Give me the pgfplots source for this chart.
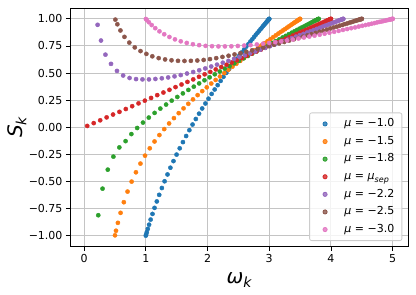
\documentclass[border=0pt]{standalone}
\usepackage{fontspec}
\setmainfont{DejaVu Sans}
\usepackage{pgfplots}
\pgfplotsset{compat=1.18}
\definecolor{c1}{HTML}{1F77B4}
\definecolor{c2}{HTML}{FF7F0E}
\definecolor{c3}{HTML}{2CA02C}
\definecolor{c4}{HTML}{D62728}
\definecolor{c5}{HTML}{9467BD}
\definecolor{c6}{HTML}{8C564B}
\definecolor{c7}{HTML}{E377C2}
\definecolor{gridc}{HTML}{C4C4C4}
\definecolor{legc}{HTML}{CCCCCC}
\begin{document}
\begin{tikzpicture}
\path[use as bounding box] (-70pt,-48.3pt) rectangle (346pt,246.7pt);
\begin{axis}[
  scale only axis, width=338.3pt, height=238.7pt,
  xmin=-0.227, xmax=5.252, ymin=-1.1, ymax=1.1,
  xtick={0,1,2,3,4,5}, xticklabels={0,1,2,3,4,5},
  ytick={-1,-0.75,-0.5,-0.25,0,0.25,0.5,0.75,1},
  yticklabels={−1.00,−0.75,−0.50,−0.25,0.00,0.25,0.50,0.75,1.00},
  tick align=outside, tick pos=left, major tick length=4pt,
  grid=major, grid style={draw=gridc, line width=1pt},
  axis line style={line width=0.9pt},
  every tick/.style={black, line width=0.9pt},
  tick label style={font=\fontsize{11}{13}\selectfont},
  xlabel={{\itshape ω}\raisebox{-4pt}{\fontsize{14}{14}\selectfont\itshape k}},
  ylabel={{\itshape S}\raisebox{-4pt}{\fontsize{14}{14}\selectfont\itshape k}},
  every axis x label/.style={at={(axis description cs:0.5,-0.138)}, anchor=center, font=\fontsize{20}{24}\selectfont},
  every axis y label/.style={at={(axis description cs:-0.157,0.5)}, anchor=center, rotate=90, font=\fontsize{20}{24}\selectfont},
  legend style={at={(1,0)}, anchor=south east, xshift=-6pt, yshift=5.7pt,
    draw=legc, line width=0.8pt, rounded corners=2pt, fill=white, fill opacity=0.8, draw opacity=1, text opacity=1,
    font=\fontsize{11}{13}\selectfont, row sep=7.1pt, column sep=10.9pt, inner xsep=6.5pt, inner ysep=5.8pt,
    nodes={inner xsep=1pt, inner ysep=0pt, text height=8pt, text depth=2.5pt}},
  legend cell align=left,
  legend image code/.code={\draw[#1] plot coordinates {(0.3cm,0cm)};\path (0cm,0cm) (0.55cm,0cm);},
]
\addplot[only marks, mark=*, mark size=2.1pt, color=c1, mark options={draw=none, fill=c1}] coordinates {
(1.001,-0.998) (1.006,-0.988) (1.017,-0.966) (1.033,-0.936) (1.054,-0.897) (1.079,-0.850) (1.109,-0.798) (1.142,-0.742) (1.179,-0.683) (1.218,-0.622) (1.261,-0.559) (1.305,-0.497) (1.352,-0.434) (1.399,-0.372) (1.449,-0.311) (1.499,-0.251) (1.550,-0.193) (1.602,-0.136) (1.654,-0.080) (1.706,-0.026) (1.758,0.026) (1.811,0.077) (1.863,0.126) (1.914,0.174) (1.966,0.220) (2.016,0.264) (2.067,0.308) (2.116,0.349) (2.165,0.389) (2.213,0.428)
(3.000,1.000) (2.998,0.999) (2.994,0.996) (2.989,0.993) (2.982,0.988) (2.972,0.982) (2.962,0.974) (2.949,0.966) (2.934,0.956) (2.918,0.945) (2.900,0.933) (2.880,0.919) (2.859,0.905) (2.836,0.889) (2.811,0.872) (2.784,0.854) (2.756,0.834) (2.727,0.813) (2.695,0.791) (2.663,0.768) (2.628,0.744) (2.593,0.718) (2.556,0.691) (2.517,0.663) (2.477,0.633) (2.436,0.602) (2.394,0.570) (2.350,0.537) (2.305,0.502) (2.259,0.466)
};
\addlegendentry{{\itshape μ} = −1.0}
\addplot[only marks, mark=*, mark size=2.1pt, color=c2, mark options={draw=none, fill=c2}] coordinates {
(0.502,-0.995) (0.518,-0.953) (0.549,-0.880) (0.592,-0.788) (0.645,-0.690) (0.705,-0.592) (0.771,-0.500) (0.841,-0.414) (0.914,-0.334) (0.988,-0.261) (1.065,-0.193) (1.142,-0.130) (1.221,-0.071) (1.299,-0.016) (1.378,0.036) (1.456,0.085) (1.534,0.131) (1.612,0.175) (1.689,0.217) (1.765,0.258) (1.840,0.297) (1.915,0.334) (1.988,0.369) (2.061,0.404) (2.132,0.437) (2.202,0.469) (2.271,0.500) (2.338,0.530) (2.404,0.559) (2.468,0.586)
(3.500,1.000) (3.497,0.999) (3.493,0.997) (3.486,0.995) (3.476,0.991) (3.465,0.986) (3.450,0.981) (3.434,0.975) (3.415,0.968) (3.395,0.960) (3.371,0.951) (3.346,0.941) (3.318,0.930) (3.288,0.919) (3.256,0.906) (3.222,0.893) (3.185,0.879) (3.147,0.864) (3.106,0.848) (3.063,0.831) (3.019,0.813) (2.972,0.794) (2.923,0.775) (2.873,0.755) (2.820,0.733) (2.766,0.711) (2.710,0.688) (2.652,0.664) (2.592,0.639) (2.531,0.613)
};
\addlegendentry{{\itshape μ} = −1.5}
\addplot[only marks, mark=*, mark size=2.1pt, color=c3, mark options={draw=none, fill=c3}] coordinates {
(0.231,-0.810) (0.300,-0.565) (0.385,-0.390) (0.476,-0.270) (0.572,-0.185) (0.673,-0.127) (0.767,-0.062) (0.861,-0.006) (0.955,0.044) (1.049,0.090) (1.143,0.133) (1.236,0.173) (1.329,0.210) (1.420,0.246) (1.511,0.280) (1.601,0.313) (1.690,0.345) (1.778,0.375) (1.865,0.405) (1.951,0.434) (2.035,0.461) (2.118,0.489) (2.199,0.515) (2.279,0.541) (2.358,0.565) (2.435,0.590) (2.510,0.613) (2.584,0.636) (2.655,0.658)
(3.800,1.000) (3.797,0.999) (3.792,0.998) (3.784,0.995) (3.774,0.992) (3.761,0.989) (3.745,0.984) (3.727,0.979) (3.707,0.973) (3.683,0.966) (3.658,0.958) (3.630,0.950) (3.599,0.941) (3.566,0.931) (3.530,0.921) (3.492,0.910) (3.452,0.898) (3.409,0.885) (3.364,0.872) (3.317,0.858) (3.267,0.843) (3.216,0.828) (3.162,0.811) (3.105,0.795) (3.047,0.777) (2.987,0.759) (2.924,0.740) (2.860,0.721) (2.794,0.700) (2.726,0.680)
};
\addlegendentry{{\itshape μ} = −1.8}
\addplot[only marks, mark=*, mark size=2.1pt, color=c4, mark options={draw=none, fill=c4}] coordinates {
(0.052,0.013) (0.157,0.039) (0.262,0.065) (0.366,0.092) (0.470,0.118) (0.574,0.143) (0.677,0.169) (0.780,0.195) (0.883,0.221) (0.985,0.246) (1.086,0.271) (1.186,0.297) (1.286,0.321) (1.384,0.346) (1.482,0.371) (1.579,0.395) (1.675,0.419) (1.769,0.442) (1.862,0.466) (1.954,0.489) (2.045,0.511) (2.134,0.534) (2.222,0.556) (2.309,0.577) (2.393,0.598) (2.476,0.619) (2.558,0.639) (2.637,0.659) (2.715,0.679) (2.791,0.698) (2.865,0.716) (2.937,0.734) (3.007,0.752) (3.075,0.769) (3.141,0.785) (3.205,0.801) (3.267,0.817) (3.326,0.831) (3.383,0.846) (3.438,0.859) (3.490,0.872) (3.540,0.885) (3.587,0.897) (3.633,0.908) (3.675,0.919) (3.715,0.929) (3.753,0.938) (3.788,0.947) (3.820,0.955) (3.850,0.962) (3.877,0.969) (3.901,0.975) (3.923,0.981) (3.942,0.986) (3.959,0.990) (3.972,0.993) (3.983,0.996) (3.991,0.998) (3.997,0.999) (4.000,1.000)
};
\addlegendentry{{\itshape μ} = {\itshape μ}\raisebox{-2.5pt}{\fontsize{8}{8}\selectfont\itshape sep}}
\addplot[only marks, mark=*, mark size=2.1pt, color=c5, mark options={draw=none, fill=c5}] coordinates {
(0.220,0.945) (0.275,0.800) (0.347,0.670) (0.437,0.585) (0.534,0.520) (0.634,0.478) (0.738,0.455) (0.843,0.445) (0.947,0.442) (1.052,0.442) (1.156,0.446) (1.260,0.452) (1.363,0.460) (1.466,0.470) (1.567,0.482) (1.668,0.496) (1.768,0.510) (1.866,0.526) (1.964,0.543) (2.060,0.561) (2.154,0.578) (2.248,0.596) (2.339,0.613) (2.430,0.631) (2.518,0.648) (2.605,0.665) (2.690,0.682) (2.773,0.699) (2.855,0.716) (2.934,0.732)
(4.200,1.000) (4.197,0.999) (4.191,0.998) (4.182,0.996) (4.171,0.994) (4.157,0.991) (4.139,0.987) (4.119,0.983) (4.097,0.978) (4.071,0.972) (4.043,0.966) (4.012,0.959) (3.978,0.952) (3.941,0.944) (3.902,0.936) (3.860,0.927) (3.815,0.917) (3.768,0.907) (3.718,0.896) (3.666,0.885) (3.611,0.874) (3.554,0.861) (3.494,0.849) (3.432,0.836) (3.367,0.822) (3.301,0.808) (3.232,0.794) (3.160,0.779) (3.087,0.763) (3.012,0.748)
};
\addlegendentry{{\itshape μ} = −2.2}
\addplot[only marks, mark=*, mark size=2.1pt, color=c6, mark options={draw=none, fill=c6}] coordinates {
(0.508,0.993) (0.540,0.950) (0.590,0.893) (0.655,0.834) (0.734,0.781) (0.822,0.737) (0.915,0.703) (1.010,0.677) (1.106,0.655) (1.209,0.638) (1.313,0.626) (1.417,0.618) (1.522,0.613) (1.627,0.612) (1.731,0.613) (1.835,0.616) (1.938,0.621) (2.040,0.629) (2.141,0.638) (2.242,0.649) (2.341,0.660) (2.438,0.672) (2.534,0.684) (2.629,0.697) (2.722,0.710) (2.813,0.723) (2.903,0.736) (2.991,0.749) (3.077,0.762) (3.160,0.774)
(4.500,1.000) (4.497,0.999) (4.490,0.998) (4.481,0.997) (4.469,0.995) (4.454,0.992) (4.436,0.989) (4.415,0.985) (4.390,0.981) (4.363,0.976) (4.333,0.970) (4.300,0.965) (4.264,0.958) (4.225,0.952) (4.184,0.944) (4.139,0.937) (4.092,0.928) (4.042,0.920) (3.989,0.911) (3.934,0.901) (3.876,0.891) (3.815,0.881) (3.752,0.870) (3.686,0.859) (3.618,0.848) (3.547,0.836) (3.475,0.824) (3.399,0.812) (3.322,0.800) (3.242,0.787)
};
\addlegendentry{{\itshape μ} = −2.5}
\addplot[only marks, mark=*, mark size=2.1pt, color=c7, mark options={draw=none, fill=c7}] coordinates {
(1.002,0.999) (1.018,0.988) (1.050,0.969) (1.096,0.943) (1.154,0.914) (1.222,0.885) (1.299,0.858) (1.383,0.833) (1.473,0.811) (1.567,0.793) (1.664,0.778) (1.764,0.766) (1.865,0.758) (1.969,0.751) (2.073,0.748) (2.177,0.746) (2.282,0.746) (2.386,0.747) (2.491,0.750) (2.594,0.754) (2.697,0.758) (2.799,0.764) (2.900,0.771) (2.999,0.778) (3.097,0.785) (3.194,0.793) (3.288,0.801) (3.381,0.810) (3.473,0.819) (3.562,0.828)
(5.000,1.000) (4.996,1.000) (4.990,0.999) (4.980,0.997) (4.967,0.996) (4.950,0.993) (4.931,0.991) (4.908,0.988) (4.882,0.984) (4.852,0.980) (4.820,0.976) (4.784,0.972) (4.746,0.967) (4.704,0.961) (4.659,0.955) (4.611,0.949) (4.560,0.943) (4.506,0.936) (4.449,0.929) (4.390,0.921) (4.327,0.914) (4.262,0.906) (4.194,0.898) (4.124,0.889) (4.051,0.881) (3.975,0.872) (3.897,0.863) (3.817,0.854) (3.734,0.845) (3.649,0.837)
};
\addlegendentry{{\itshape μ} = −3.0}
\end{axis}
\end{tikzpicture}
\end{document}
